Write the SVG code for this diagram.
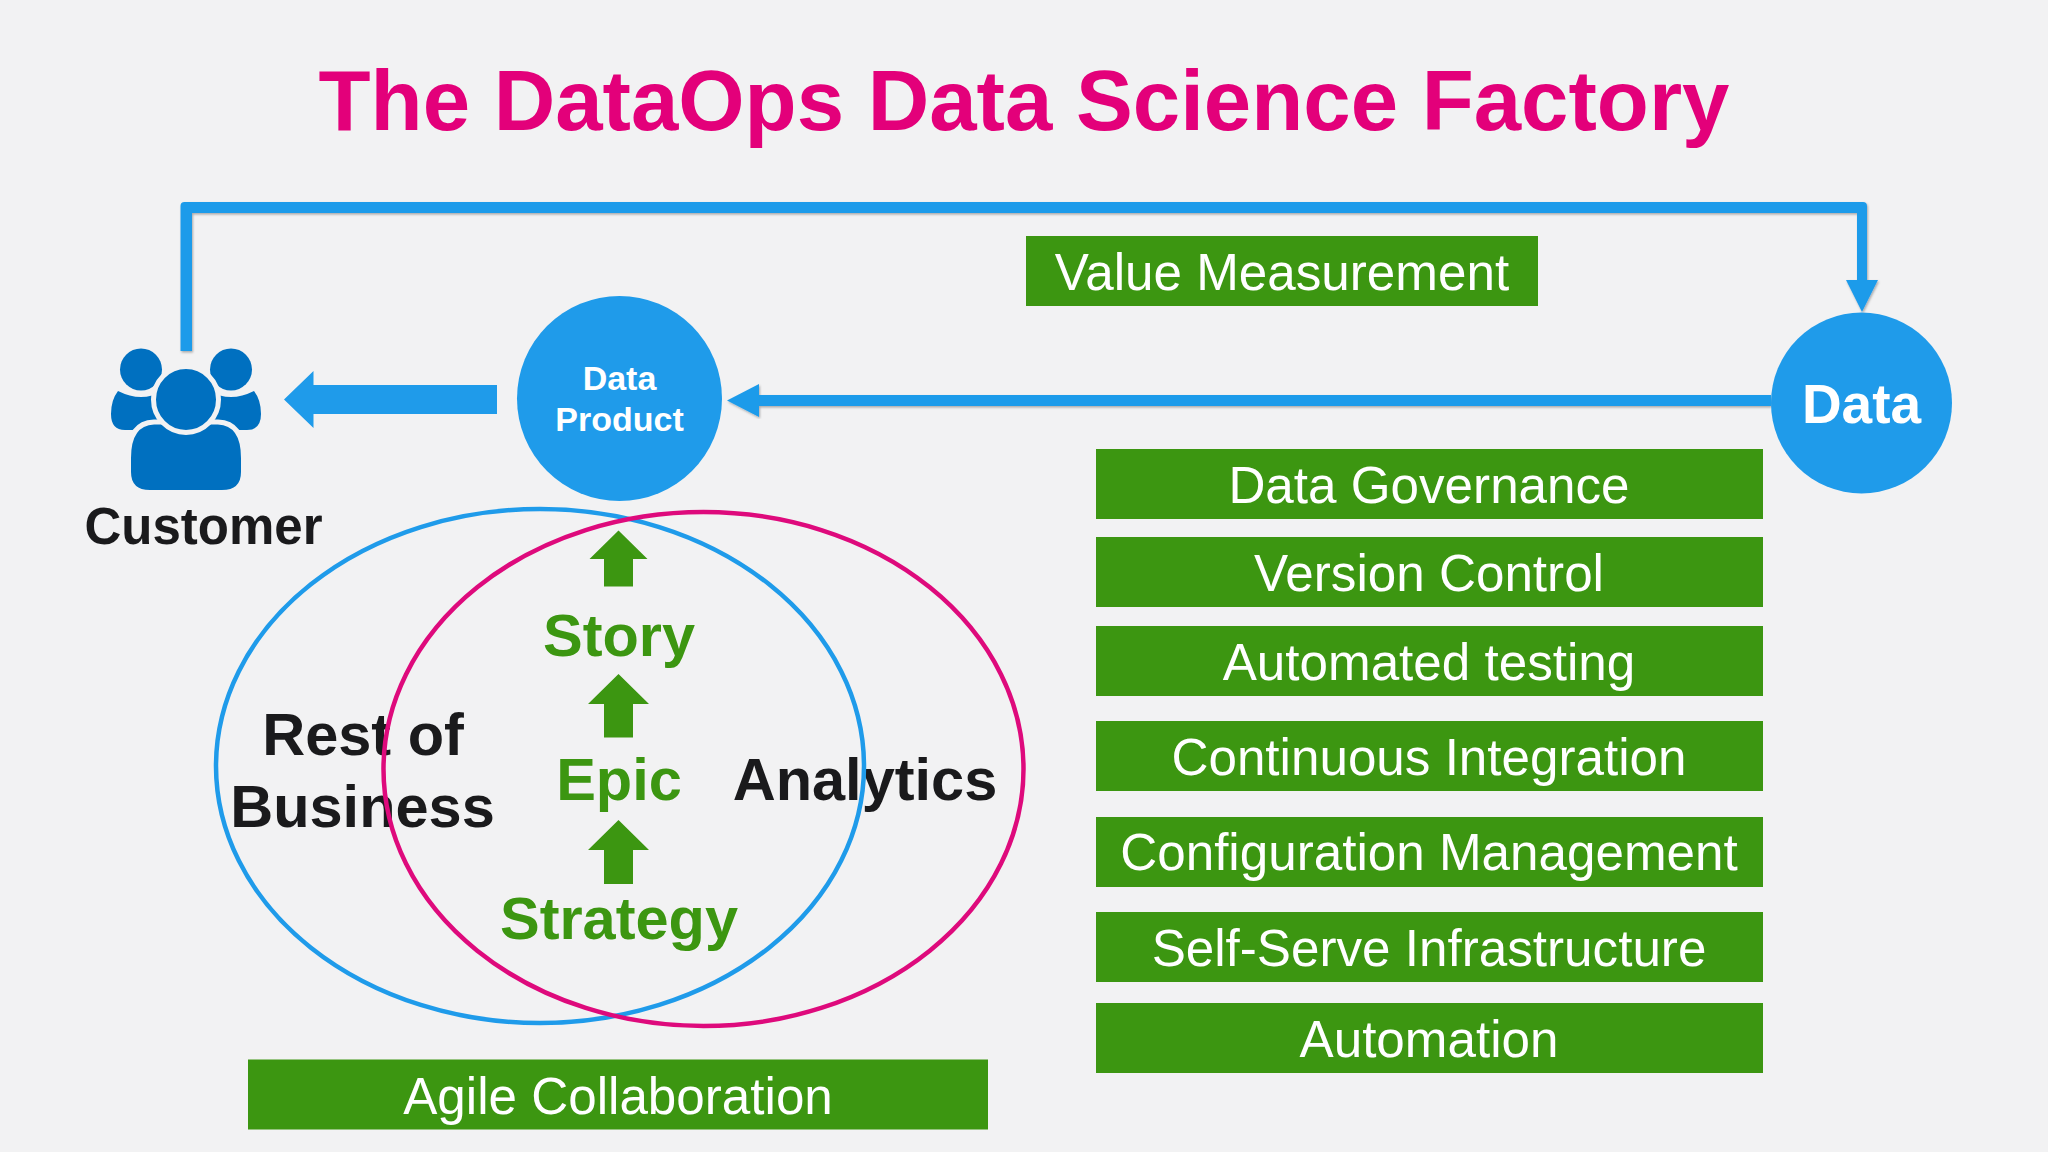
<svg xmlns="http://www.w3.org/2000/svg" width="2048" height="1152" viewBox="0 0 2048 1152">
<defs>
<style>
text{font-family:"Liberation Sans",Arial,sans-serif;text-anchor:middle}
.bar{fill:#3C9611}
.barT{fill:#fff;font-size:51.200px}
.blue{fill:#1F9BEA}
.ink{fill:#1A1A1C;font-weight:700;font-size:59.500px}
.grn{fill:#3C9611;font-weight:700;font-size:59.500px}
.wht{fill:#fff;font-weight:700}
.icon{fill:#0070C0}
.cut{fill:#0070C0;stroke:#F2F2F3;stroke-width:5}
.ring{fill:none;stroke-width:4.500}
</style>
<filter id="sh" x="-5%" y="-5%" width="110%" height="110%"><feDropShadow dx="1" dy="1.500" stdDeviation="1.200" flood-color="#000" flood-opacity="0.3"/></filter>
</defs>
<rect id="background" width="2048" height="1152" fill="#F2F2F3"/>
<text id="title" x="1024" y="130" font-size="85.200" font-weight="700" fill="#E3007A">The DataOps Data Science Factory</text>

<g id="connectors">
<path class="blue" filter="url(#sh)" d="M180.500 351V206Q180.500 202 184.500 202H1863Q1867 202 1867 206V280H1878L1862 312L1846 280H1857V213H192V351Z"/>
<path class="blue" filter="url(#sh)" d="M1771 395H759V384L727 400.500L759 417V406H1771Z"/>
<path class="blue" d="M497 385H313.500V371L284 399.500L313.500 428V414H497Z"/>
<path id="arrow-story-product" class="bar" d="M618.500 530.500L647.500 559H633V586.500H604V559H589.500Z"/>
<path id="arrow-epic-story" class="bar" d="M618.500 674L649 704H633V737.500H604V704H588Z"/>
<path id="arrow-strategy-epic" class="bar" d="M618.500 820L649 850H633V884H604V850H588Z"/>
</g>

<g id="customer">
<ellipse class="icon" cx="141" cy="369.500" rx="21" ry="21"/>
<ellipse class="icon" cx="231" cy="369.500" rx="21" ry="21"/>
<path class="icon" d="M118 391Q130 397 141 397Q152 397 163 391L165 430H125Q111 430 111 414Q111 400 118 391Z"/>
<path class="icon" d="M254 391Q242 397 231 397Q220 397 209 391L207 430H247Q261 430 261 414Q261 400 254 391Z"/>
<path class="cut" d="M128.500 472V458Q128.500 423 154 422H218Q243.500 423 243.500 458V472Q243.500 492.500 222 492.500H150Q128.500 492.500 128.500 472Z"/>
<ellipse class="cut" cx="186" cy="399.500" rx="32.500" ry="33"/>
<text x="203.500" y="544" class="ink" style="font-size:51px">Customer</text>
</g>

<g id="data-product">
<circle class="blue" cx="619.500" cy="398.500" r="102.500"/>
<text class="wht" x="619.500" y="390" style="font-size:34px">Data</text>
<text class="wht" x="619.500" y="431" style="font-size:34px">Product</text>
</g>

<g id="data">
<circle class="blue" cx="1861.500" cy="403" r="90.500"/>
<text class="wht" x="1861.500" y="423" style="font-size:55px">Data</text>
</g>

<g id="labels">
<text class="ink" x="363" y="755">Rest of</text>
<text class="ink" x="362.500" y="827">Business</text>
<text class="ink" x="865" y="800">Analytics</text>
<text class="grn" x="619" y="656">Story</text>
<text class="grn" x="619" y="800">Epic</text>
<text class="grn" x="619" y="939">Strategy</text>
</g>

<g id="venn">
<ellipse id="rest-of-business" class="ring" cx="540" cy="766" rx="324" ry="257" stroke="#1F9BEA"/>
<ellipse id="analytics" class="ring" cx="703.500" cy="769" rx="320" ry="257" stroke="#DE0A7C"/>
</g>

<g id="value-measurement"><rect class="bar" x="1026" y="236" width="512" height="70"/><text class="barT" x="1282" y="290">Value Measurement</text></g>
<g id="data-governance"><rect class="bar" x="1096" y="449" width="667" height="70"/><text class="barT" x="1429" y="503">Data Governance</text></g>
<g id="version-control"><rect class="bar" x="1096" y="537" width="667" height="70"/><text class="barT" x="1429" y="591">Version Control</text></g>
<g id="automated-testing"><rect class="bar" x="1096" y="626" width="667" height="70"/><text class="barT" x="1429" y="680">Automated testing</text></g>
<g id="continuous-integration"><rect class="bar" x="1096" y="721" width="667" height="70"/><text class="barT" x="1429" y="775">Continuous Integration</text></g>
<g id="configuration-management"><rect class="bar" x="1096" y="817" width="667" height="70"/><text class="barT" x="1429" y="870">Configuration Management</text></g>
<g id="self-serve-infrastructure"><rect class="bar" x="1096" y="912" width="667" height="70"/><text class="barT" x="1429" y="966">Self-Serve Infrastructure</text></g>
<g id="automation"><rect class="bar" x="1096" y="1003" width="667" height="70"/><text class="barT" x="1429" y="1057">Automation</text></g>
<g id="agile-collaboration"><rect class="bar" x="248" y="1059.500" width="740" height="70"/><text class="barT" x="618" y="1114">Agile Collaboration</text></g>
</svg>
